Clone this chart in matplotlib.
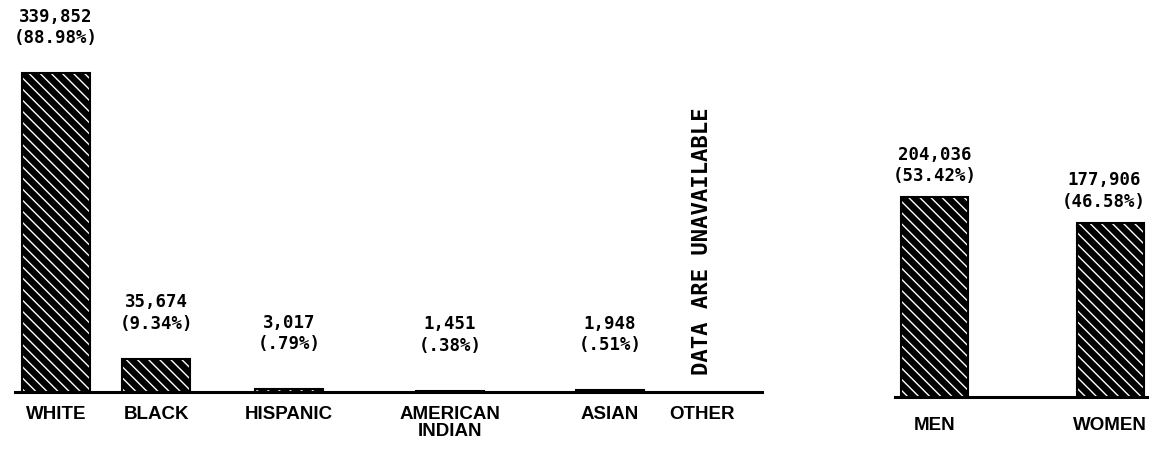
import matplotlib.pyplot as plt

plt.rcParams['hatch.linewidth'] = 1.0
plt.rcParams['hatch.color'] = 'white'

# enrollment by race / ethnicity
race_cats = ["WHITE", "BLACK", "HISPANIC", "AMERICAN\nINDIAN", "ASIAN", "OTHER"]
race_vals = [339852, 35674, 3017, 1451, 1948, None]
race_pct = ["88.98", "9.34", ".79", ".38", ".51", None]

# enrollment by sex
sex_cats = ["MEN", "WOMEN"]
sex_vals = [204036, 177906]
sex_pct = ["53.42", "46.58"]

race_x = [56, 156, 289, 450, 610, 702]
sex_x = [935, 1110]

W, H = 1149, 449
fig = plt.figure(figsize=(W / 100, H / 100), dpi=100)

mono = dict(family="DejaVu Sans Mono", fontweight="bold", fontsize=12.5)
sans = dict(family="Liberation Sans", fontweight="bold", fontsize=13.5)


def draw_bars(ax, xs, vals, width):
    for x, v in zip(xs, vals):
        if v is None:
            continue
        ax.bar(x, v, width=width, facecolor="black", edgecolor="white", hatch="\\\\\\", linewidth=0)
        ax.bar(x, v, width=width, fill=False, edgecolor="black", linewidth=1.5)


def fmt(v, p):
    return "{:,}\n({}%)".format(v, p)


# left panel
axL = fig.add_axes([0, 57 / H, 770 / W, 392 / H])
axL.set_xlim(0, 770)
axL.set_ylim(0, 339852 * 392 / 319)
draw_bars(axL, race_x, race_vals, 68)
axL.plot([15, 762], [0, 0], color="black", lw=2.2, clip_on=False)
for x, v, p, c in zip(race_x, race_vals, race_pct, race_cats):
    axL.annotate(c, (x, 0), xytext=(0, -14), textcoords="offset pixels",
                 ha="center", va="top", linespacing=1.0, annotation_clip=False, **sans)
    if v is None:
        continue
    off = 26 if v > 20000 else 36
    axL.annotate(fmt(v, p), (x, v), xytext=(0, off), textcoords="offset pixels",
                 ha="center", va="bottom", linespacing=1.25, **mono)
axL.text(race_x[5], 161000, "DATA ARE UNAVAILABLE", rotation=90, ha="center", va="center",
         family="DejaVu Sans Mono", fontweight="bold", fontsize=16)
axL.axis("off")

# right panel
axR = fig.add_axes([890 / W, 52 / H, 259 / W, 397 / H])
axR.set_xlim(890, 1149)
axR.set_ylim(0, 204036 * 397 / 200)
draw_bars(axR, sex_x, sex_vals, 67)
axR.plot([895, 1149], [0, 0], color="black", lw=2.2, clip_on=False)
for i, (x, v, p, c) in enumerate(zip(sex_x, sex_vals, sex_pct, sex_cats)):
    axR.annotate(c, (x, 0), xytext=(0, -20), textcoords="offset pixels",
                 ha="center", va="top", annotation_clip=False, **sans)
    axR.annotate(fmt(v, p), (x, v), xytext=(-6 * i, 12), textcoords="offset pixels",
                 ha="center", va="bottom", linespacing=1.25, annotation_clip=False, **mono)
axR.axis("off")

fig.savefig("out.png", dpi=100)
